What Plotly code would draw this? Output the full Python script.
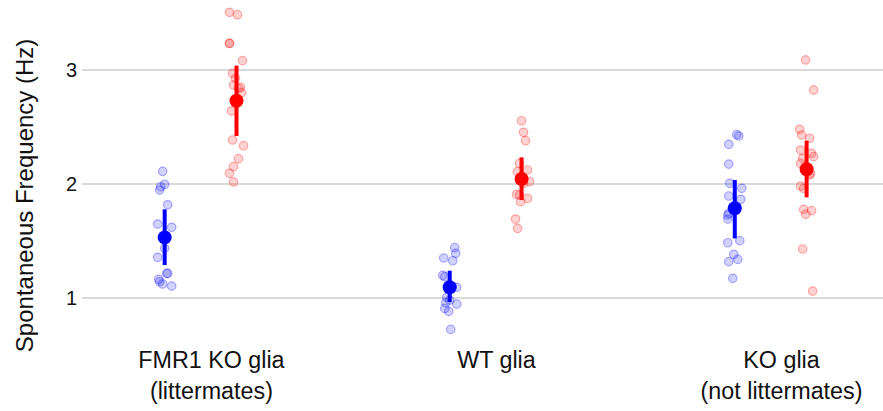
import plotly.graph_objects as go

# ---------------- data ----------------
categories = ["FMR1 KO glia<br>(littermates)", "WT glia", "KO glia<br>(not littermates)"]
tick_vals = [0, 1, 2]
y_ticks = [1, 2, 3]
y_title = "Spontaneous Frequency (Hz)"

# individual cells (Hz) and horizontal jitter (pixels) per group
blue_vals = [
    [2.111, 1.997, 1.976, 1.947, 1.818, 1.649, 1.620, 1.436, 1.357, 1.216, 1.216, 1.164, 1.143, 1.123, 1.105],
    [1.442, 1.392, 1.351, 1.327, 1.199, 1.187, 1.094, 1.006, 0.982, 0.959, 0.947, 0.909, 0.883, 0.725],
    [2.433, 2.421, 2.348, 2.175, 2.006, 1.962, 1.895, 1.866, 1.743, 1.728, 1.693, 1.503, 1.485, 1.383, 1.339, 1.319, 1.173],
]
blue_jit = [
    [-2, 0, -4, -5, 3, -7, 7, 0, -7, 2, 3, -6, -5, -2, 7],
    [5, 6, -6, 3, -7, -5, 7, -3, 0, -4, 7, -5, -1, 1],
    [2, 4, -6, -6, -5, 7, -6, 6, -6, -7, -7, 5, -7, -1, 3, -6, -2],
]
red_vals = [
    [3.506, 3.485, 3.234, 3.234, 3.082, 2.971, 2.927, 2.868, 2.848, 2.839, 2.801, 2.640, 2.386, 2.336, 2.222, 2.152, 2.094, 2.018],
    [2.555, 2.453, 2.380, 2.181, 2.123, 2.108, 2.050, 2.021, 2.006, 1.909, 1.904, 1.874, 1.845, 1.693, 1.611],
    [3.088, 2.825, 2.480, 2.430, 2.401, 2.298, 2.269, 2.240, 2.225, 2.181, 2.094, 2.079, 1.982, 1.962, 1.778, 1.766, 1.734, 1.430, 1.061],
]
red_jit = [
    [-7, 1, -7, -7, 6, -4, -1, -3, 4, 2, 5, -5, -4, 7, 2, -3, -7, -3],
    [0, 2, 4, -2, 6, -4, 2, 8, 2, -5, -2, 6, -1, -6, -4],
    [-1, 7, -7, -5, 3, -6, 5, 7, -4, -6, 4, 3, -6, -3, -3, 5, -1, -4, 6],
]

# group means and error bar ends
blue_mean = [1.532, 1.094, 1.787]
blue_hi = [1.778, 1.240, 2.035]
blue_lo = [1.289, 0.965, 1.523]
red_mean = [2.731, 2.044, 2.129]
red_hi = [3.038, 2.234, 2.380]
red_lo = [2.421, 1.860, 1.883]

# ---------------- layout constants ----------------
BLUE_OFF, RED_OFF = -0.164, 0.088
PX = 1 / 285.0  # jitter pixel -> category units

fig = go.Figure()

for vals, jit, off, col_fill, col_line in [
    (blue_vals, blue_jit, BLUE_OFF, "rgba(0,0,255,0.18)", "rgba(0,0,255,0.30)"),
    (red_vals, red_jit, RED_OFF, "rgba(255,0,0,0.18)", "rgba(255,0,0,0.30)"),
]:
    xs, ys = [], []
    for g, (vv, jj) in enumerate(zip(vals, jit)):
        for v, j in zip(vv, jj):
            xs.append(g + off + j * PX)
            ys.append(v)
    fig.add_trace(go.Scatter(
        x=xs, y=ys, mode="markers",
        marker=dict(size=8.5, color=col_fill, line=dict(color=col_line, width=1.2)),
        showlegend=False, hoverinfo="y",
    ))

for mean, hi, lo, off, col in [
    (blue_mean, blue_hi, blue_lo, BLUE_OFF, "#0000FF"),
    (red_mean, red_hi, red_lo, RED_OFF, "#FF0000"),
]:
    fig.add_trace(go.Scatter(
        x=[g + off for g in range(len(mean))], y=mean, mode="markers",
        marker=dict(size=14, color=col),
        error_y=dict(type="data", symmetric=False,
                     array=[h - m for h, m in zip(hi, mean)],
                     arrayminus=[m - l for m, l in zip(mean, lo)],
                     color=col, thickness=4, width=0),
        showlegend=False,
    ))

font_family = "Liberation Sans, Arial, sans-serif"
fig.update_layout(
    width=883, height=411,
    margin=dict(l=82, r=0, t=0, b=71),
    paper_bgcolor="white", plot_bgcolor="white",
    font=dict(family=font_family, size=21, color="#111111"),
    xaxis=dict(
        range=[-0.454, 2.356], tickmode="array", tickvals=tick_vals, ticktext=categories,
        showgrid=False, zeroline=False, showline=False, ticks="",
        tickfont=dict(size=23.3), ticklabelstandoff=4,
    ),
    yaxis=dict(
        range=[0.632, 3.614], tickmode="array", tickvals=y_ticks,
        ticktext=[str(v) for v in y_ticks],
        showgrid=True, gridcolor="#d9d9d9", gridwidth=1.5,
        zeroline=False, showline=False, ticks="", ticklabelstandoff=4,
        tickfont=dict(size=20),
    ),
    annotations=[dict(
        text=y_title, textangle=-90, showarrow=False,
        xref="paper", yref="paper", x=-0.0724, y=0.426,
        xanchor="center", yanchor="middle",
        font=dict(size=24),
    )],
)

fig.write_html("out.html")
